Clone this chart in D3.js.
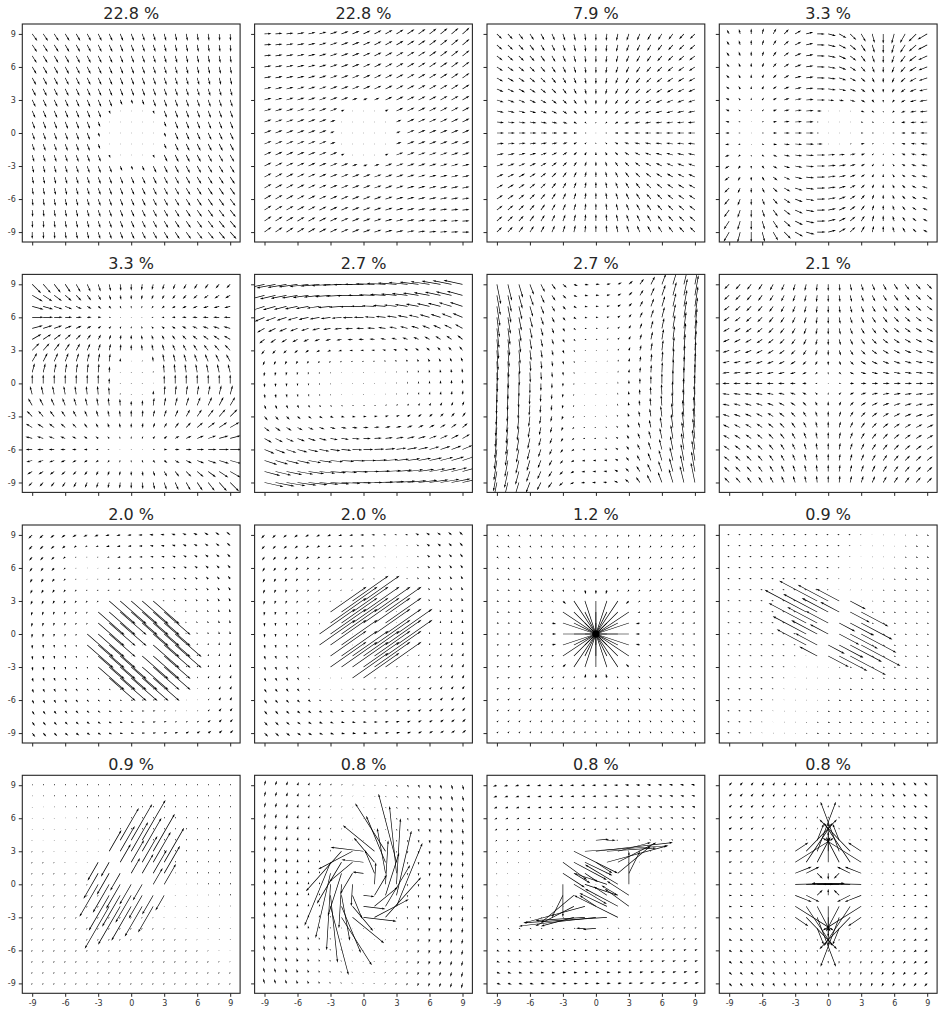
<!DOCTYPE html>
<html><head><meta charset="utf-8">
<script src="https://cdn.jsdelivr.net/npm/d3@7"></script>
<style>
body{margin:0;background:#fff;}
svg{display:block;}
text{font-family:"DejaVu Sans",sans-serif;}
</style></head><body>
<svg id="chart" width="944" height="1016"></svg>
<script>
// ---------------- data ----------------
const titles = ["22.8 %","22.8 %","7.9 %","3.3 %","3.3 %","2.7 %","2.7 %","2.1 %",
                "2.0 %","2.0 %","1.2 %","0.9 %","0.9 %","0.8 %","0.8 %","0.8 %"];
const tickValues = [-9,-6,-3,0,3,6,9];
const gridValues = [-9,-8,-7,-6,-5,-4,-3,-2,-1,0,1,2,3,4,5,6,7,8,9];
const axisDomain = [-9.9, 9.9];

// mode parameters
const tiltFlow1 = {u:[0.42,0.006,-0.0033,-0.0049], v:[-1,0,0,0], hole:[0,0,2.0,3.8], px:7};
const tiltFlow2 = {u:[1,0,0,0], v:[0.42,0.0033,0.006,0.0049], hole:[0,0,2.0,3.8], px:7};
const radialSink3 = {sign:-1, soft:4, px:7.3};
const waveX4 = {period:24, shift:1, skew:0.4, hole:[0.8,0.6,1.4,3.0], px:8};
const waveY5 = {period:24, skew:-0.4, hole:[0.3,0.3,1.4,3.0], px:9};
const shearX6 = {power:1.6, cross:0.22, px:19};
const shearY7 = {power:1.6, cross:0.2, px:20};
const saddle8 = {soft:3, px:7};
const ring9 = {angle:-41, len:35, center:[0,-0.5], rmin:1.6, rmax:4.05, bg:3.5, bgCenter:[1,-1], zeros:[[-4,6],[5,-6]]};
const ring10 = {angle:35, len:44, center:[-0.5,-0.5], rmin:1.3, rmax:3.6, bg:3.5, bgCenter:[0.5,0.5], zeros:[[3,7],[-3,-4]]};
const sink11 = {rIn:3.7, rMid:4.3, midLen:0.4, bg:0.22};
const stretch12 = {angle:-28, center:[0.6,0.4], r:3.3, base:1.6, gain:0.88, bg:2.2};
const stretch13 = {angle:60, center:[0.1,0.8], r:3.5, base:1.5, gain:0.85, bg:1.8};
const vortex14 = {a:1, b:2, spiral:0.12, r:3.65, bgX:0.25, bgY:5};
// panel 15: half of the strong arrows [x, y, u, v] (other half is point-mirrored)
const strong15 = [
  [-1,3,7.6,0.5],[0,3,7.0,0.8],[1,3,4.5,0.3],[2,3,3.0,0.8],[1,2,5.5,1.5],[2,2,3.5,1.8],
  [2,1,3.0,2.5],[3,0,0,3.0],[3,1,1.0,2.0],[0,4,1.2,0.1],[1,4,0.8,0.0],
  [-2,3,4.0,-2.0],[-3,2,2.2,-1.6],[-2,2,3.0,-1.6],[-1,2,2.5,-1.2],[-3,1,2.0,-1.3],
  [-2,1,1.5,-0.9],[-1,1,1.2,-0.8],[0,2,1.5,-1.0],[-2,0,3.0,-1.8],[-1,0,3.0,-1.0]
];
const bg15 = [4, 1.2];
// panel 16: quadrant x<=0, y>=0 of strong arrows [x, y, u, v] (mirrored in both axes)
const strong16 = [
  [-3,2,3.5,2.2],[-2,2,2.4,3.6],[-2,3,2.8,2.9],[-1,3,1.7,4.5],[-1,2,1.2,2.3],[0,2,0,3.6],
  [-1,4,0.6,1.5],[0,3,0,1.2],[-1,1,0.5,-0.5],[0,1,0,-0.6],[-3,0,4.5,0.1],[-2,0,3.5,0.05],
  [-1,0,1.5,0],[0,4,0,0.8],[-3,1,1.5,0.6],[-2,1,1.2,0.6],[-3,3,1.2,0.8]
];
const bg16 = 3;

// ---------------- layout ----------------
const panelLefts = [22.3, 254.6, 487.0, 719.3];
const panelTops = [24.0, 274.4, 525.0, 775.3];
const panelW = 217.8, panelH = 218.0;
const ink = "#262626";

const svg = d3.select("#chart");
const xs = d3.scaleLinear().domain(axisDomain).range([0, panelW]);
const ys = d3.scaleLinear().domain(axisDomain).range([panelH, 0]);
const pxPerUnit = xs(1) - xs(0);
const shaftW = 0.06 * panelW / 19;

function smooth(a,b,t){ const s=Math.max(0,Math.min(1,(t-a)/(b-a))); return s*s*(3-2*s); }
function bil(c,x,y){ return c[0]+c[1]*x+c[2]*y+c[3]*x*y; }
function holeF(h,x,y){ return smooth(h[2],h[3],Math.hypot(x-h[0],y-h[1])); }

function tiltField(p){ return (x,y)=>{ const m=holeF(p.hole,x,y)*p.px; return [bil(p.u,x,y)*m, bil(p.v,x,y)*m]; }; }
function radialField(p){ return (x,y)=>{ const r=Math.hypot(x,y); if(r===0) return [0,0]; const m=p.sign*Math.tanh(r/p.soft)*p.px/r; return [x*m,y*m]; }; }
function waveXField(p){ return (x,y)=>{ const ph=2*Math.PI*(x+p.shift)/p.period; const m=(1+p.skew*x*y/81)*holeF(p.hole,x,y)*p.px; return [Math.cos(ph)*m, -(y/9)*Math.sin(ph)*m]; }; }
function waveYField(p){ return (x,y)=>{ const ph=2*Math.PI*y/p.period; const m=(1+p.skew*x*y/81)*holeF(p.hole,x,y)*p.px; return [-(x/9)*Math.sin(ph)*m, Math.cos(ph)*m]; }; }
function shearXField(p){ return (x,y)=>[-Math.sign(y)*Math.pow(Math.abs(y)/9,p.power)*p.px, p.cross*x/9*p.px]; }
function shearYField(p){ return (x,y)=>[p.cross*y/9*p.px, Math.sign(x)*Math.pow(Math.abs(x)/9,p.power)*p.px]; }
function saddleField(p){ return (x,y)=>{ const r=Math.hypot(x,y); if(r===0) return [0,0]; const m=Math.tanh(r/p.soft)*p.px/r; return [x*m,-y*m]; }; }
function zeroFactor(z,x,y){ return z.reduce((f,q)=>f*Math.min(1,Math.hypot(x-q[0],y-q[1])/3),1); }
function ringField(p){ return (x,y)=>{
  const r=Math.hypot(x-p.center[0],y-p.center[1]);
  if(r<p.rmin) return [0,0];
  if(r<=p.rmax){ const a=p.angle*Math.PI/180; return [Math.cos(a)*p.len, Math.sin(a)*p.len]; }
  const f=p.bg/9*zeroFactor(p.zeros,x,y);
  return [-(y-p.bgCenter[1])*f, (x-p.bgCenter[0])*f];
}; }
function sinkField(p){ return (x,y)=>{ const r=Math.hypot(x,y); if(r===0) return [0,0];
  if(r<=p.rIn) return [-x*pxPerUnit,-y*pxPerUnit];
  const m=(r<=p.rMid?p.midLen:p.bg)*pxPerUnit/r; return [-x*m,-y*m]; }; }
function stretchField(p){ return (x,y)=>{ const a=p.angle*Math.PI/180, ex=Math.cos(a), ey=Math.sin(a);
  const dx=x-p.center[0], dy=y-p.center[1], d=ex*dx+ey*dy;
  if(Math.hypot(dx,dy)<=p.r){ const m=Math.sign(d)*(p.base+p.gain*Math.abs(d))*pxPerUnit; return [ex*m,ey*m]; }
  const m=Math.sign(d)*Math.min(1,Math.abs(d)/3)*p.bg; return [ex*m,ey*m]; }; }
function vortexField(p){ return (x,y)=>{ if(Math.hypot(x,y)<=p.r) return [(-p.a*y+p.spiral*x)*pxPerUnit,(p.b*x+p.spiral*y)*pxPerUnit];
  return [p.bgX*p.bgY*y/9, -p.bgY*x/9]; }; }
function listField(list, bg){ const m=new Map(); list.forEach(a=>m.set(a[0]+","+a[1],[a[2]*pxPerUnit,a[3]*pxPerUnit]));
  return (x,y)=>{ const k=x+","+y; return m.has(k)?m.get(k):bg(x,y); }; }
function mirrorPoint(list){ const out=[]; list.forEach(a=>{ out.push(a); out.push([-a[0],-a[1],-a[2],-a[3]]); }); return out; }
function mirrorQuad(list){ const out=[]; list.forEach(a=>{ out.push(a);
  if(a[0]<0) out.push([-a[0],a[1],-a[2],a[3]]);
  if(a[1]>0) out.push([a[0],-a[1],a[2],-a[3]]);
  if(a[0]<0&&a[1]>0) out.push([-a[0],-a[1],-a[2],-a[3]]); }); return out; }

const fields = [
  tiltField(tiltFlow1), tiltField(tiltFlow2), radialField(radialSink3), waveXField(waveX4),
  waveYField(waveY5), shearXField(shearX6), shearYField(shearY7), saddleField(saddle8),
  ringField(ring9), ringField(ring10), sinkField(sink11), stretchField(stretch12),
  stretchField(stretch13), vortexField(vortex14),
  listField(mirrorPoint(strong15), (x,y)=>[-bg15[0]*y/9, bg15[1]*x/9]),
  listField(mirrorQuad(strong16), (x,y)=>[-bg16*x/9, bg16*y/9])
];

// matplotlib-style quiver arrow polygon
function arrowD(tx, ty, vx, vy){
  const Lpx=Math.hypot(vx,vy), L=Lpx/shaftW;
  let X,Y;
  if(!(L>=1)){ X=[];Y=[]; for(let i=0;i<6;i++){X.push(0.5*Math.cos(i*Math.PI/3));Y.push(0.5*Math.sin(i*Math.PI/3));} }
  else if(L<5){ const s=L/5; X=[0,0.5,0,5,0,0.5,0].map(v=>v*s); Y=[0.5,0.5,1.5,0,-1.5,-0.5,-0.5].map(v=>v*s); }
  else { X=[0,L-4.5,L-5,L,L-5,L-4.5,0]; Y=[0.5,0.5,1.5,0,-1.5,-0.5,-0.5]; }
  const c=Lpx>0?vx/Lpx:1, s=Lpx>0?vy/Lpx:0;
  return "M"+X.map((x,i)=>{ const px=tx+shaftW*(x*c-Y[i]*s), py=ty+shaftW*(x*s+Y[i]*c); return px.toFixed(2)+","+py.toFixed(2); }).join("L")+"Z";
}

titles.forEach((title, i)=>{
  const row=Math.floor(i/4), col=i%4;
  const g=svg.append("g").attr("transform",`translate(${panelLefts[col]},${panelTops[row]})`);
  const clipId="clip"+i;
  g.append("clipPath").attr("id",clipId).append("rect").attr("width",panelW).attr("height",panelH);

  const f=fields[i];
  const arrows=[];
  gridValues.forEach(yv=>gridValues.forEach(xv=>{ const v=f(xv,yv); arrows.push({x:xv,y:yv,u:v[0],v:v[1]}); }));
  g.append("g").attr("clip-path",`url(#${clipId})`).selectAll("path").data(arrows).join("path")
    .attr("d",d=>arrowD(xs(d.x),ys(d.y),d.u,-d.v)).attr("fill","#000").attr("stroke","none");

  const ax=d3.axisLeft(ys).tickValues(tickValues).tickSize(3.5).tickPadding(3).tickFormat(col===0?(d=>String(d)):"");
  const bx=d3.axisBottom(xs).tickValues(tickValues).tickSize(3.5).tickPadding(4).tickFormat(row===3?(d=>String(d)):"");
  const ga=g.append("g").call(ax);
  const gb=g.append("g").attr("transform",`translate(0,${panelH})`).call(bx);
  [ga,gb].forEach(a=>{ a.select(".domain").remove(); a.selectAll("line").attr("stroke",ink).attr("stroke-width",1);
    a.selectAll("text").attr("fill","#333").style("font-size","8px").style("font-family","DejaVu Sans, sans-serif"); });

  g.append("rect").attr("width",panelW).attr("height",panelH).attr("fill","none").attr("stroke",ink).attr("stroke-width",1.1);
  g.append("text").attr("x",panelW/2).attr("y",-5).attr("text-anchor","middle").attr("fill",ink)
    .style("font-size","16px").text(title);
});
</script></body></html>
